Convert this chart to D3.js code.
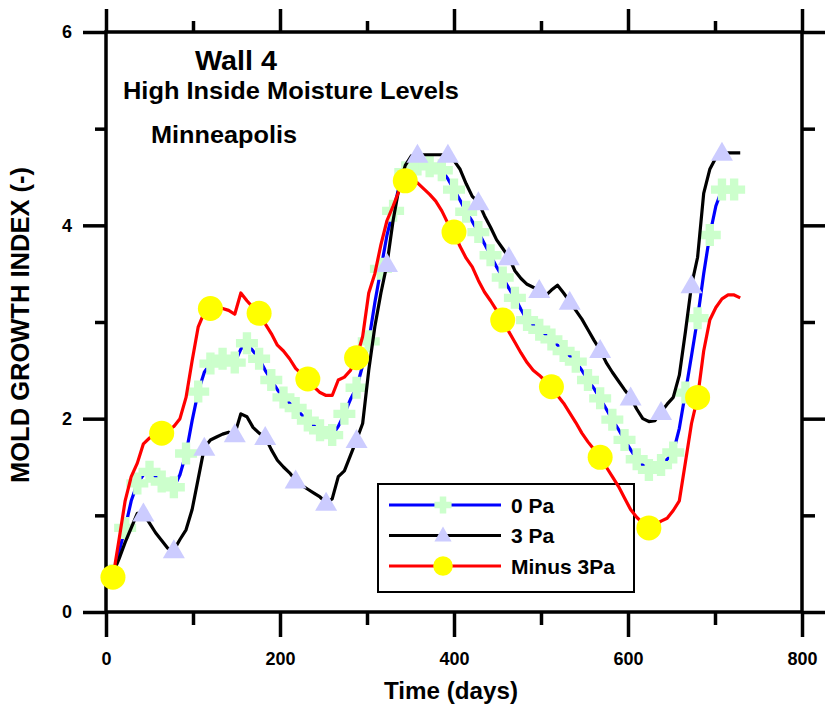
<!DOCTYPE html>
<html><head><meta charset="utf-8">
<script src="https://cdn.jsdelivr.net/npm/d3@7"></script>
<style>
html,body{margin:0;padding:0;background:#fff;}
svg{display:block;font-family:Arial,"Liberation Sans",sans-serif;font-weight:bold;}
svg text{font-weight:bold;}
</style></head>
<body>
<svg id="chart" width="825" height="706"></svg>
<script>
const days = [8,15,22,29,36,43,50,57,64,71,78,85,92,99,106,113,120,127,134,141,148,155,162,169,176,183,190,197,204,211,218,225,232,239,246,253,260,267,274,281,288,295,302,309,316,323,330,337,344,351,358,365,372,379,386,393,400,407,414,421,428,435,442,449,456,463,470,477,484,491,498,505,512,519,526,533,540,547,554,561,568,575,582,589,596,603,610,617,624,631,638,645,652,659,666,673,680,687,694,701,708,715,722,729];

const pa0 = [0.38,0.62,0.87,1.15,1.33,1.42,1.45,1.40,1.35,1.31,1.29,1.42,1.64,1.98,2.28,2.48,2.57,2.60,2.62,2.60,
 2.58,2.72,2.78,2.70,2.62,2.50,2.40,2.30,2.22,2.16,2.11,2.04,1.98,1.93,1.88,1.84,1.83,1.92,2.05,2.20,
 2.32,2.55,2.80,3.20,3.55,3.90,4.15,4.40,4.55,4.62,4.63,4.62,4.61,4.60,4.57,4.48,4.37,4.26,4.14,4.04,
 3.93,3.81,3.69,3.57,3.46,3.35,3.25,3.13,3.02,2.97,2.92,2.87,2.82,2.76,2.70,2.65,2.59,2.50,2.40,2.31,
 2.21,2.10,1.99,1.89,1.78,1.68,1.58,1.52,1.47,1.48,1.52,1.58,1.65,1.90,2.27,2.65,3.04,3.50,3.90,4.20,
 4.37,4.37,4.37,4.37];

const pa3 = [0.40,0.55,0.72,0.87,1.02,1.02,0.92,0.82,0.74,0.66,0.64,0.75,0.85,1.06,1.38,1.70,1.78,1.81,1.84,1.86,
 1.84,2.05,2.02,1.91,1.85,1.81,1.68,1.57,1.50,1.44,1.36,1.31,1.27,1.23,1.19,1.13,1.17,1.40,1.46,1.62,
 1.78,1.95,2.50,2.95,3.30,3.60,4.05,4.40,4.62,4.72,4.73,4.73,4.73,4.73,4.73,4.73,4.67,4.58,4.43,4.30,
 4.24,4.10,3.98,3.85,3.76,3.67,3.53,3.45,3.39,3.36,3.33,3.27,3.33,3.38,3.30,3.21,3.12,3.03,2.92,2.81,
 2.71,2.58,2.48,2.39,2.30,2.22,2.10,2.00,1.97,1.98,2.07,2.15,2.22,2.45,2.90,3.38,3.67,4.33,4.58,4.70,
 4.75,4.75,4.75,4.75];

const minus3 = [0.36,0.75,1.15,1.40,1.54,1.74,1.80,1.83,1.85,1.88,1.92,2.00,2.22,2.60,2.95,3.10,3.14,3.14,3.14,3.12,
 3.08,3.30,3.22,3.15,3.09,2.98,2.88,2.76,2.70,2.62,2.52,2.46,2.41,2.33,2.27,2.24,2.24,2.40,2.43,2.50,
 2.63,2.85,3.30,3.50,3.80,4.05,4.20,4.36,4.46,4.46,4.44,4.38,4.32,4.25,4.15,4.02,3.93,3.78,3.66,3.57,
 3.43,3.31,3.22,3.12,3.02,2.90,2.79,2.68,2.58,2.50,2.45,2.39,2.33,2.24,2.16,2.06,1.96,1.85,1.76,1.68,
 1.60,1.50,1.40,1.30,1.18,1.06,0.98,0.92,0.87,0.90,0.94,0.97,1.05,1.15,1.55,1.95,2.22,2.70,3.02,3.15,
 3.24,3.28,3.28,3.25];

const seriesNames = ["0 Pa", "3 Pa", "Minus 3Pa"];
const xTicksMajor = [0,200,400,600,800];
const xTicksMinor = [100,300,500,700];
const yTicksMajor = [0,2,4,6];
const yTicksMinor = [1,3,5];
const titleLines = ["Wall 4", "High Inside Moisture Levels", "Minneapolis"];
const xLabel = "Time (days)";
const yLabel = "MOLD GROWTH INDEX (-)";

const svg = d3.select("#chart");
const L = 106, R = 802, T = 32, B = 612;
const x = d3.scaleLinear().domain([0,800]).range([L,R]);
const y = d3.scaleLinear().domain([0,6]).range([B,T]);

function styleAxis(g, labels){
  g.attr("font-size",null).attr("font-family",null);
  g.select(".domain").remove();
  g.selectAll(".tick line").attr("stroke","#000").attr("stroke-width",3.5);
  if(!labels) g.selectAll(".tick text").remove();
  else g.selectAll(".tick text").attr("fill","#000")
      .style("font-size","18px").style("font-weight","bold")
      .style("font-family","Arial,'Liberation Sans',sans-serif");
}

svg.append("g").attr("transform",`translate(${L},0)`)
  .call(d3.axisLeft(y).tickValues(yTicksMajor).tickSize(23).tickPadding(11).tickFormat(d3.format("d")))
  .call(g=>styleAxis(g,true));
svg.append("g").attr("transform",`translate(${L},0)`)
  .call(d3.axisLeft(y).tickValues(yTicksMinor).tickSize(11)).call(g=>styleAxis(g,false));
svg.append("g").attr("transform",`translate(${R},0)`)
  .call(d3.axisRight(y).tickValues(yTicksMajor).tickSize(23)).call(g=>styleAxis(g,false));
svg.append("g").attr("transform",`translate(${R},0)`)
  .call(d3.axisRight(y).tickValues(yTicksMinor).tickSize(13)).call(g=>styleAxis(g,false));
svg.append("g").attr("transform",`translate(0,${B})`)
  .call(d3.axisBottom(x).tickValues(xTicksMajor).tickSize(25).tickPadding(15).tickFormat(d3.format("d")))
  .call(g=>styleAxis(g,true));
svg.append("g").attr("transform",`translate(0,${B})`)
  .call(d3.axisBottom(x).tickValues(xTicksMinor).tickSize(13)).call(g=>styleAxis(g,false));
svg.append("g").attr("transform",`translate(0,${T})`)
  .call(d3.axisTop(x).tickValues(xTicksMajor).tickSize(23)).call(g=>styleAxis(g,false));
svg.append("g").attr("transform",`translate(0,${T})`)
  .call(d3.axisTop(x).tickValues(xTicksMinor).tickSize(11)).call(g=>styleAxis(g,false));

svg.append("rect").attr("x",L).attr("y",T).attr("width",R-L).attr("height",B-T)
  .attr("fill","none").attr("stroke","#000").attr("stroke-width",3.5);

const crossPath = (s)=>{ const a=s/2, w=s*0.19; return `M${-w},${-a}H${w}V${-w}H${a}V${w}H${w}V${a}H${-w}V${w}H${-a}V${-w}H${-w}Z`; };
const triPath = (w,h)=>`M0,${-h/2-2}L${w/2},${h/2-1}L${-w/2},${h/2-1}Z`;
const series = [
  {name:seriesNames[0], vals:pa0, stroke:"#0000ff", marker:"cross", fill:"#ccffcc", start:0, step:2},
  {name:seriesNames[1], vals:pa3, stroke:"#000000", marker:"tri", fill:"#ccccff", start:5, step:5},
  {name:seriesNames[2], vals:minus3, stroke:"#ff0000", marker:"circle", fill:"#ffff00", start:0, step:8}
];
function drawMarker(g, type, fill, scale){
  if(type==="cross") g.append("path").attr("d",crossPath(22*scale)).attr("fill",fill);
  else if(type==="tri") g.append("path").attr("d",triPath(22*scale,18*scale)).attr("fill",fill);
  else g.append("circle").attr("r",12.5*scale).attr("fill",fill);
}

// legend box (no fill, drawn beneath data)
const lg = svg.append("g");
lg.append("rect").attr("x",378).attr("y",484).attr("width",256).attr("height",108)
  .attr("fill","none").attr("stroke","#000").attr("stroke-width",2);

const line = d3.line().x((d,i)=>x(days[i])).y(d=>y(d));
series.forEach(s=>{
  svg.append("path").datum(s.vals).attr("d",line).attr("fill","none")
    .attr("stroke",s.stroke).attr("stroke-width",3.2).attr("stroke-linejoin","round");
  s.vals.forEach((v,i)=>{
    if(i>=s.start && (i - s.start) % s.step === 0){
      const g = svg.append("g").attr("transform",`translate(${x(days[i])},${y(v)})`);
      drawMarker(g, s.marker, s.fill, 1);
    }
  });
});

series.forEach((s,k)=>{
  const cy = 505 + k*30.5;
  lg.append("line").attr("x1",389).attr("x2",501).attr("y1",cy).attr("y2",cy)
    .attr("stroke",s.stroke).attr("stroke-width",3.2);
  const g = lg.append("g").attr("transform",`translate(443,${cy})`);
  drawMarker(g, s.marker, s.fill, 0.78);
  lg.append("text").attr("x",511).attr("y",cy+7.5).attr("font-size",21).attr("fill","#000").text(s.name);
});

svg.append("text").attr("x",236).attr("y",70).attr("text-anchor","middle").attr("font-size",28)
  .attr("textLength",82).attr("lengthAdjust","spacingAndGlyphs").text(titleLines[0]);
svg.append("text").attr("x",123).attr("y",99).attr("font-size",24)
  .attr("textLength",336).attr("lengthAdjust","spacingAndGlyphs").text(titleLines[1]);
svg.append("text").attr("x",151).attr("y",143).attr("font-size",24)
  .attr("textLength",146).attr("lengthAdjust","spacingAndGlyphs").text(titleLines[2]);

svg.append("text").attr("x",451).attr("y",699).attr("text-anchor","middle").attr("font-size",24)
  .attr("textLength",134).attr("lengthAdjust","spacingAndGlyphs").text(xLabel);
svg.append("text").attr("transform","translate(29,325) rotate(-90)").attr("text-anchor","middle")
  .attr("font-size",25).attr("textLength",316).attr("lengthAdjust","spacingAndGlyphs").text(yLabel);
</script>
</body></html>
